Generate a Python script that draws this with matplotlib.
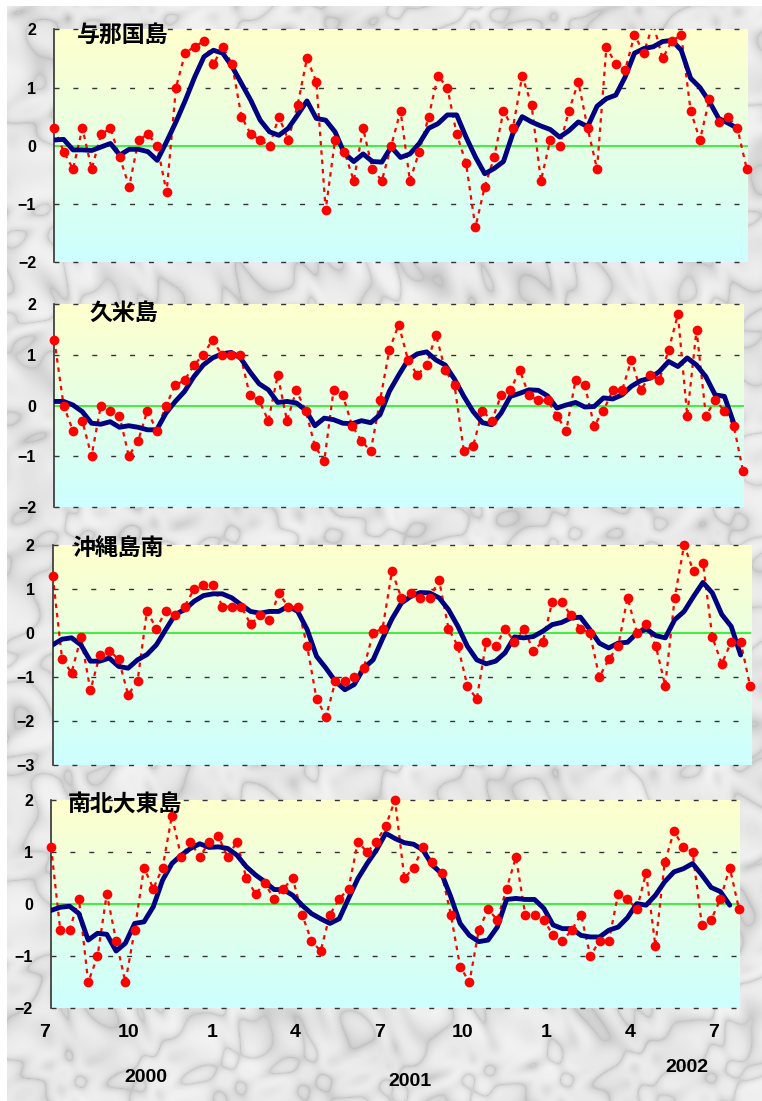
import numpy as np
import matplotlib
matplotlib.use("Agg")
import matplotlib.pyplot as plt
from matplotlib.colors import LinearSegmentedColormap

# 10-day anomalies, Jul 2000 - Jul 2002 (75 values per station)
stations = ["与那国島", "久米島", "沖縄島南", "南北大東島"]

yonaguni = [0.3, -0.1, -0.4, 0.3, -0.4, 0.2, 0.3, -0.2, -0.7, 0.1,
            0.2, 0.0, -0.8, 1.0, 1.6, 1.7, 1.8, 1.4, 1.7, 1.4,
            0.5, 0.2, 0.1, 0.0, 0.5, 0.1, 0.7, 1.5, 1.1, -1.1,
            0.1, -0.1, -0.6, 0.3, -0.4, -0.6, 0.0, 0.6, -0.6, -0.1,
            0.5, 1.2, 1.0, 0.2, -0.3, -1.4, -0.7, -0.2, 0.6, 0.3,
            1.2, 0.7, -0.6, 0.1, 0.0, 0.6, 1.1, 0.3, -0.4, 1.7,
            1.4, 1.3, 1.9, 1.6, 2.1, 1.5, 1.8, 1.9, 0.6, 0.1,
            0.8, 0.4, 0.5, 0.3, -0.4]
yonaguni_smooth = [0.10, 0.11, -0.07, -0.07, -0.08, -0.02, 0.04, -0.16, -0.06, -0.06,
                   -0.10, -0.25, 0.07, 0.41, 0.78, 1.18, 1.53, 1.64, 1.59, 1.36,
                   1.07, 0.78, 0.44, 0.24, 0.18, 0.30, 0.53, 0.77, 0.47, 0.44,
                   0.24, -0.13, -0.27, -0.14, -0.27, -0.28, -0.02, -0.20, -0.14, 0.04,
                   0.30, 0.38, 0.53, 0.53, 0.15, -0.19, -0.48, -0.39, -0.27, 0.21,
                   0.50, 0.41, 0.34, 0.28, 0.15, 0.26, 0.41, 0.33, 0.68, 0.81,
                   0.87, 1.18, 1.59, 1.67, 1.70, 1.79, 1.81, 1.64, 1.16, 1.00,
                   0.76, 0.47, 0.39, 0.30]

kume = [1.3, 0.0, -0.5, -0.3, -1.0, 0.0, -0.1, -0.2, -1.0, -0.7,
        -0.1, -0.5, 0.0, 0.4, 0.5, 0.8, 1.0, 1.3, 1.0, 1.0,
        1.0, 0.2, 0.1, -0.3, 0.6, -0.3, 0.3, -0.1, -0.8, -1.1,
        0.3, 0.2, -0.4, -0.7, -0.9, 0.1, 1.1, 1.6, 0.9, 0.6,
        0.8, 1.4, 0.7, 0.4, -0.9, -0.8, -0.1, -0.3, 0.2, 0.3,
        0.7, 0.2, 0.1, 0.1, -0.2, -0.5, 0.5, 0.4, -0.4, -0.1,
        0.3, 0.3, 0.9, 0.3, 0.6, 0.5, 1.1, 1.8, -0.2, 1.5,
        -0.2, 0.1, -0.1, -0.4, -1.3]
kume_smooth = [0.08, 0.08, 0.01, -0.12, -0.35, -0.37, -0.32, -0.43, -0.40, -0.43,
               -0.48, -0.48, -0.15, 0.08, 0.28, 0.57, 0.80, 0.94, 1.02, 1.05,
               0.94, 0.67, 0.43, 0.31, 0.06, 0.08, 0.05, -0.09, -0.40, -0.25,
               -0.28, -0.35, -0.36, -0.30, -0.34, -0.18, 0.28, 0.60, 0.90, 1.02,
               1.06, 0.90, 0.80, 0.52, 0.18, -0.12, -0.34, -0.38, -0.15, 0.18,
               0.24, 0.31, 0.30, 0.19, -0.05, 0.01, 0.06, -0.03, -0.02, 0.15,
               0.13, 0.21, 0.38, 0.49, 0.54, 0.67, 0.87, 0.77, 0.94, 0.80,
               0.57, 0.21, 0.18, -0.35]

okinawa_s = [1.3, -0.6, -0.9, -0.1, -1.3, -0.5, -0.4, -0.6, -1.4, -1.1,
             0.5, 0.1, 0.5, 0.4, 0.6, 1.0, 1.1, 1.1, 0.6, 0.6,
             0.6, 0.2, 0.4, 0.3, 0.9, 0.6, 0.6, -0.3, -1.5, -1.9,
             -1.1, -1.1, -1.0, -0.8, 0.0, 0.1, 1.4, 0.8, 0.9, 0.8,
             0.8, 1.2, 0.1, -0.3, -1.2, -1.5, -0.2, -0.3, 0.1, -0.2,
             0.1, -0.4, -0.2, 0.7, 0.7, 0.4, 0.1, 0.0, -1.0, -0.6,
             -0.3, 0.8, 0.0, 0.2, -0.3, -1.2, 0.8, 2.0, 1.4, 1.6,
             -0.1, -0.7, -0.2, -0.2, -1.2]
okinawa_s_smooth = [-0.27, -0.14, -0.11, -0.27, -0.64, -0.64, -0.57, -0.76, -0.80, -0.61,
                    -0.49, -0.27, 0.08, 0.42, 0.53, 0.72, 0.85, 0.89, 0.89, 0.80,
                    0.64, 0.49, 0.45, 0.49, 0.49, 0.61, 0.49, 0.08, -0.53, -0.80,
                    -1.10, -1.29, -1.17, -0.80, -0.61, -0.13, 0.32, 0.68, 0.83, 0.92,
                    0.91, 0.80, 0.53, 0.15, -0.30, -0.61, -0.70, -0.64, -0.45, -0.09,
                    -0.11, -0.08, 0.04, 0.19, 0.24, 0.34, 0.36, 0.08, -0.23, -0.34,
                    -0.23, -0.21, 0.00, 0.09, -0.06, -0.11, 0.30, 0.49, 0.83, 1.15,
                    0.91, 0.42, 0.15, -0.50]

daito = [1.1, -0.5, -0.5, 0.1, -1.5, -1.0, 0.2, -0.7, -1.5, -0.5,
         0.7, 0.3, 0.7, 1.7, 0.9, 1.2, 0.9, 1.2, 1.3, 0.9,
         1.2, 0.5, 0.2, 0.4, 0.1, 0.3, 0.5, -0.2, -0.7, -0.9,
         -0.2, 0.1, 0.3, 1.2, 1.0, 1.2, 1.5, 2.0, 0.5, 0.7,
         1.1, 0.8, 0.6, -0.2, -1.2, -1.5, -0.5, -0.1, -0.3, 0.3,
         0.9, -0.2, -0.2, -0.3, -0.6, -0.7, -0.5, -0.2, -1.0, -0.7,
         -0.7, 0.2, 0.1, -0.1, 0.6, -0.8, 0.8, 1.4, 1.1, 1.0,
         -0.4, -0.3, 0.1, 0.7, -0.1]
daito_smooth = [-0.12, -0.06, -0.04, -0.18, -0.69, -0.56, -0.58, -0.90, -0.75, -0.37,
                -0.34, -0.05, 0.46, 0.78, 0.94, 1.07, 1.16, 1.09, 1.10, 1.07,
                0.94, 0.72, 0.56, 0.43, 0.28, 0.28, 0.17, -0.02, -0.18, -0.28,
                -0.37, -0.28, 0.11, 0.49, 0.78, 1.04, 1.36, 1.26, 1.18, 1.15,
                1.04, 0.75, 0.59, 0.14, -0.37, -0.60, -0.72, -0.69, -0.44, 0.09,
                0.11, 0.09, 0.09, -0.08, -0.40, -0.47, -0.47, -0.60, -0.63, -0.63,
                -0.50, -0.44, -0.26, 0.01, -0.02, 0.17, 0.43, 0.62, 0.68, 0.78,
                0.56, 0.32, 0.24, -0.02]

month_labels = ["7", "10", "1", "4", "7", "10", "1", "4", "7"]
year_labels = ["2000", "2001", "2002"]

dots = [yonaguni, kume, okinawa_s, daito]
smooth = [yonaguni_smooth, kume_smooth, okinawa_s_smooth, daito_smooth]
ylims = [(-2, 2), (-2, 2), (-3, 2), (-2, 2)]

W, H = 762, 1101
# plot areas in pixels: left, right, top, bottom
boxes = [(54.3, 747.7, 29.3, 262.3),
         (54.3, 744.0, 304.3, 506.7),
         (52.7, 751.0, 545.0, 765.0),
         (51.0, 740.0, 800.0, 1008.3)]
title_pos = [(77, 35), (89, 313), (72, 548), (68, 804)]

num_font = ["Liberation Sans", "DejaVu Sans"]
cjk_font = ["Noto Sans CJK JP", "DejaVu Sans"]

fig = plt.figure(figsize=(W / 100, H / 100), dpi=100)

# marble-like backdrop (procedural, purely decorative)
bg = fig.add_axes([7 / W, 0, 1 - 7 / W, 1 - 6 / H], zorder=-10)
yy, xx = np.mgrid[0:1095, 0:755].astype(float)
turb = (np.sin(xx / 37.0 + 2.1 * np.sin(yy / 53.0))
        + 0.8 * np.sin(yy / 29.0 - xx / 71.0 + 1.7 * np.cos(xx / 41.0))
        + 0.5 * np.sin((xx + yy) / 11.0 + 2.0 * np.sin(yy / 17.0))
        + 0.4 * np.sin((xx - 0.7 * yy) / 7.0 + 1.5 * np.cos(xx / 13.0)))
vein = np.abs(np.sin((0.6 * xx + yy) / 45.0 + 1.4 * turb))
cloud = 0.5 + 0.25 * np.sin(xx / 23.0 + np.cos(yy / 31.0) * 3) * np.cos(yy / 19.0 - xx / 47.0)
tex = 0.70 + 0.17 * vein ** 0.4 + 0.10 * cloud
bg.imshow(tex, cmap="gray", vmin=0, vmax=1, aspect="auto",
          interpolation="bilinear")
bg.axis("off")

grad = LinearSegmentedColormap.from_list("yc", ["#FFFFCC", "#CCFFFF"])

for k in range(4):
    L, R, T, B = boxes[k]
    ax = fig.add_axes([L / W, 1 - B / H, (R - L) / W, (B - T) / H])
    y0, y1 = ylims[k]
    xmax = 74.1
    ax.set_xlim(0, xmax)
    ax.set_ylim(y0, y1)
    ax.imshow(np.linspace(0, 1, 256).reshape(-1, 1), cmap=grad,
              extent=[0, xmax, y0, y1], aspect="auto", zorder=0)

    for v in range(y0, y1 + 1):
        if v == 0:
            ax.axhline(0, color="#33EE33", lw=1.3, zorder=1)
        else:
            ax.axhline(v, color="#333333", lw=1.0, dashes=(3.6, 10.0),
                       zorder=1, clip_on=False)

    vals = np.array(dots[k])
    x = np.arange(len(vals))
    ax.plot(x, vals, color="#FF0000", lw=1.6, dashes=(2.0, 2.2), zorder=2)
    sm = np.array(smooth[k])
    ax.plot(np.arange(len(sm)), sm, color="#000080", lw=3.5,
            solid_capstyle="round", solid_joinstyle="round", zorder=3)
    ax.plot(x, np.ma.masked_greater(vals, y1), "o", color="#FF0000",
            ms=7, mec="none", zorder=4, clip_on=False)

    for s in ["top", "right", "bottom"]:
        ax.spines[s].set_visible(False)
    ax.spines["left"].set_color("#333333")
    ax.spines["left"].set_linewidth(1.2)
    ax.set_xticks([])
    ax.set_yticks(range(y0, y1 + 1))
    ax.tick_params(axis="y", length=0, pad=13)
    for lab in ax.get_yticklabels():
        lab.set_family(num_font)
        lab.set_fontweight("bold")
        lab.set_fontsize(11.5)

    tx, ty = title_pos[k]
    fig.text(tx / W, 1 - ty / H, stations[k], family=cjk_font,
             fontweight="bold", fontsize=16.5, va="center", ha="left", zorder=10)

    if k == 3:
        pos = np.arange(len(month_labels)) * 9 - 0.7
        for p, lab in zip(pos, month_labels):
            ax.text(p, -0.115, lab, transform=ax.get_xaxis_transform(),
                    ha="center", va="center", family=num_font,
                    fontweight="bold", fontsize=14, clip_on=False)

year_pos = [(146, 1078), (410, 1081), (687, 1068)]
for (px, py), lab in zip(year_pos, year_labels):
    fig.text(px / W, 1 - py / H, lab, ha="center", va="center",
             family=num_font, fontweight="bold", fontsize=14)

fig.savefig("out.png", dpi=100)
